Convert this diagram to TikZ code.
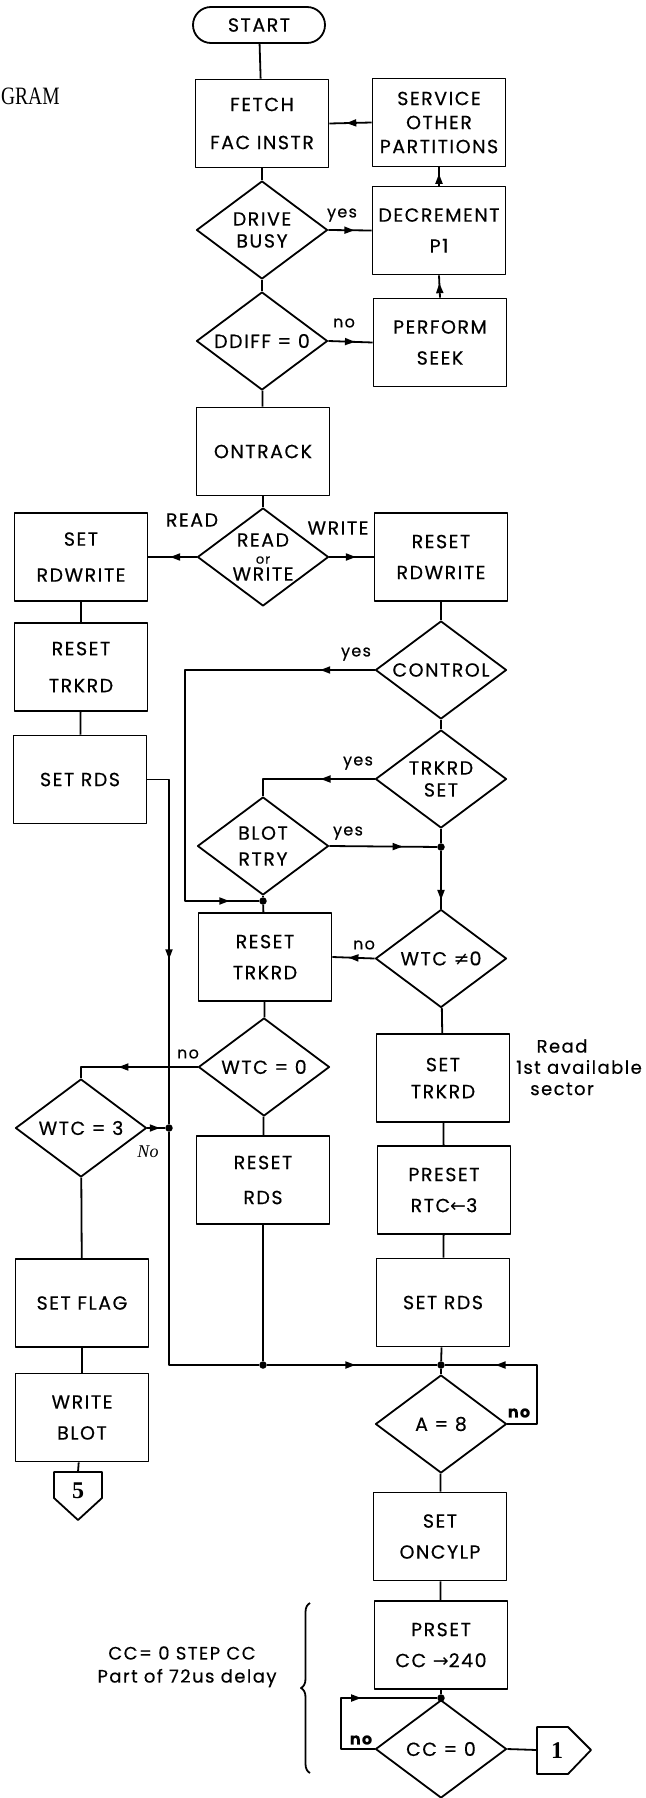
\documentclass[tikz,border=0pt]{standalone}
\usepackage{fontspec}
\setmainfont{Poppins}[LetterSpace=8, FakeBold=0.4]
\newfontfamily\symf{DejaVu Sans}
\newfontfamily\serf{Liberation Serif}
\usetikzlibrary{arrows.meta,decorations.markings,decorations.pathreplacing,shapes.geometric}
\tikzset{
  ln/.style={line width=1.8pt},
  fbox/.style={draw, line width=1.8pt, minimum width=133pt, minimum height=88pt, inner sep=0pt, align=center, font=\fontsize{19}{31}\selectfont},
  fdia/.style={draw, diamond, line width=1.8pt, minimum width=131pt, minimum height=98pt, inner sep=0pt, aspect=1.34, align=center, font=\fontsize{19}{22}\selectfont},
  jdot/.style={circle, fill, inner sep=0pt, minimum size=7.5pt},
  lab/.style={font=\fontsize{16}{16}\selectfont, inner sep=0pt},
  blab/.style={font=\bfseries\fontsize{16}{16}\selectfont, inner sep=0pt},
  capl/.style={font=\fontsize{19}{19}\selectfont, inner sep=0pt},
  notel/.style={font=\fontsize{18}{18}\selectfont, inner sep=0pt},
  connl/.style={line width=1.8pt, line join=round},
  ma/.style={postaction={decorate, decoration={markings, mark=at position #1 with {\arrow{Triangle[length=10pt,width=7pt]}}}}},
}
\begin{document}
\begin{tikzpicture}[x=1pt,y=-1pt,line join=round]
\useasboundingbox (0,0) rectangle (645,1798);

% caption fragment
\node[font=\serf\fontsize{25}{25}\selectfont, anchor=west, inner sep=0pt, xscale=0.78] (gram) at (1,96) {GRAM};

% main column
\node[fbox, minimum width=132pt, minimum height=36pt, rounded corners=18pt] (start) at (259,25) {START};
\node[fbox] (fetch) at (262,123.5) {FETCH\\[7pt]FAC INSTR};
\node[fdia] (busy) at (262,230) {DRIVE\\BUSY};
\node[fdia] (ddiff) at (262,341) {DDIFF = 0};
\node[fbox] (ontrack) at (263,451.5) {ONTRACK};
\node[fdia, font=\fontsize{19}{17}\selectfont] (rw) at (263,557) {READ\\{\fontsize{13}{13}\selectfont or}\\WRITE};
\node[fdia] (blot) at (263,846) {BLOT\\[4pt]RTRY};
\node[jdot] (jm1) at (263,901) {};
\node[fbox] (rtrk2) at (265,957) {RESET\\TRKRD};
\node[fdia] (wtc0) at (264,1067) {WTC = 0};
\node[fbox] (rrds) at (263,1180) {RESET\\[4pt]RDS};
\node[jdot] (jm2) at (263,1365) {};

% right column
\node[fbox, font=\fontsize{19}{24}\selectfont] (service) at (439,122.5) {SERVICE\\OTHER\\PARTITIONS};
\node[fbox] (decr) at (439,230.5) {DECREMENT\\P1};
\node[fbox] (seek) at (440,342.5) {PERFORM\\SEEK};
\node[fbox] (rrdw) at (441,557) {RESET\\RDWRITE};
\node[fdia] (control) at (441,670) {CONTROL};
\node[fdia] (trkset) at (441,779) {TRKRD\\SET};
\node[jdot] (jr1) at (441,847) {};
\node[fdia] (wtcn0) at (441,958.5) {WTC {\symf ≠}0};
\node[fbox, font=\fontsize{19}{27}\selectfont] (settrk) at (443,1078) {SET\\TRKRD};
\node[fbox] (preset) at (444,1190) {PRESET\\RTC{\symf ←}3};
\node[fbox] (setrds2) at (443,1302.5) {SET RDS};
\node[jdot] (jr2) at (441,1365) {};
\node[fdia] (a8) at (441,1424) {A = 8};
\node[fbox] (oncylp) at (440,1536.5) {SET\\ONCYLP};
\node[fbox] (prset) at (441,1645) {PRSET\\CC {\symf →}240};
\node[jdot] (jr3) at (441,1698) {};
\node[fdia] (cc0) at (441,1749) {CC = 0};

% left column
\node[fbox] (setrdw) at (81,557) {SET\\[5pt]RDWRITE};
\node[fbox] (rtrk1) at (81,667) {RESET\\[6pt]TRKRD};
\node[fbox] (setrds1) at (80,779.5) {SET RDS};
\node[fdia] (wtc3) at (81,1128) {WTC = 3};
\node[jdot] (jx) at (169,1128) {};
\node[fbox] (setflag) at (82,1303) {SET FLAG};
\node[fbox] (wblot) at (82,1417.5) {WRITE\\BLOT};

% off-page connectors
\draw[connl] (54,1472) -- (102,1472) -- (102,1498) -- (78,1520) -- (54,1498) -- cycle;
\coordinate (c5n) at (78,1472);
\node[font=\serf\bfseries\fontsize{24}{24}\selectfont, inner sep=0pt] (c5) at (78,1491) {5};
\draw[connl] (537,1727) -- (568,1727) -- (591,1750) -- (568,1774) -- (537,1774) -- cycle;
\coordinate (c1w) at (537,1750);
\node[font=\serf\bfseries\fontsize{24}{24}\selectfont, inner sep=0pt] (c1) at (557,1751) {1};

% corner coordinates
\coordinate (lp) at (185,901);
\coordinate (bl) at (169,1365);
\coordinate (rl) at (537,1365);
\coordinate (cl) at (341,1698);

% connectors
\draw[ln] (start) -- (fetch);
\draw[ln] (fetch) -- (busy);
\draw[ln, ma=0.6] (busy.east) -- (decr.west);
\draw[ln] (busy) -- (ddiff);
\draw[ln, ma=0.6] (ddiff.east) -- (seek.west);
\draw[ln, ma=0.65] (seek.north) -- (decr.south);
\draw[ln, ma=0.65] (decr.north) -- (service.south);
\draw[ln, ma=0.6] (service.west) -- (fetch.east);
\draw[ln] (ddiff) -- (ontrack);
\draw[ln] (ontrack) -- (rw);
\draw[ln, ma=0.55] (rw.west) -- (setrdw.east);
\draw[ln, ma=0.6] (rw.east) -- (rrdw.west);
\draw[ln] (setrdw) -- (rtrk1);
\draw[ln] (rtrk1) -- (setrds1);
\draw[ln] (rrdw) -- (control);
\draw[ln] (control) -- (trkset);
\draw[ln, ma=0.11, ma=0.94] (control.west) -| (lp) -- (jm1);
\draw[ln, ma=0.42] (trkset.west) -| (blot.north);
\draw[ln] (trkset) -- (jr1);
\draw[ln, ma=0.68] (blot.east) -- (jr1);
\draw[ln] (blot) -- (jm1);
\draw[ln, ma=0.85] (jr1) -- (wtcn0);
\draw[ln] (jm1) -- (rtrk2);
\draw[ln, ma=0.62] (wtcn0.west) -- (rtrk2.east);
\draw[ln] (rtrk2) -- (wtc0);
\draw[ln, ma=0.62] (wtc0.west) -| (wtc3.north);
\draw[ln] (wtc0) -- (rrds);
\draw[ln, ma=0.7] (wtc3.east) -- (jx);
\draw[ln, ma=0.55] (setrds1.east) -| (jx);
\draw[ln] (jx) -- (bl) -- (jm2);
\draw[ln, ma=0.52] (jm2) -- (jr2);
\draw[ln] (rrds) -- (jm2);
\draw[ln] (wtcn0) -- (settrk);
\draw[ln] (settrk) -- (preset);
\draw[ln] (preset) -- (setrds2);
\draw[ln] (setrds2) -- (jr2);
\draw[ln] (jr2) -- (a8);
\draw[ln, ma=0.72] (a8.east) -| (rl) -- (jr2);
\draw[ln] (a8) -- (oncylp);
\draw[ln] (oncylp) -- (prset);
\draw[ln] (prset) -- (jr3);
\draw[ln] (jr3) -- (cc0);
\draw[ln, ma=0.58] (cc0.west) -| (cl) -- (jr3);
\draw[ln] (cc0.east) -- (c1w);
\draw[ln] (wtc3) -- (setflag);
\draw[ln] (setflag) -- (wblot);
\draw[ln] (wblot) -- (c5n);

% brace
\draw[ln, decorate, decoration={brace, amplitude=9pt}] (310,1773) -- (310,1603);

% labels
\node[lab] (yes1) at (342,215) {yes};
\node[lab] (no1) at (344,323) {no};
\node[capl] (lread) at (192,520) {READ};
\node[capl] (lwrite) at (338,528) {WRITE};
\node[lab] (yes2) at (356,654) {yes};
\node[lab] (yes3) at (358,763) {yes};
\node[lab] (yes4) at (348,833) {yes};
\node[lab] (no2) at (364,945) {no};
\node[lab] (no3) at (188,1054) {no};
\node[font=\serf\itshape\fontsize{18}{18}\selectfont, inner sep=0pt] (no4) at (148,1152) {No};
\node[blab] (no5) at (519,1413) {no};
\node[blab] (no6) at (361,1740) {no};

% notes
\node[notel] (n1) at (562,1046) {Read};
\node[notel] (n2) at (579,1067) {1st available};
\node[notel] (n3) at (562,1089) {sector};
\node[notel] (cc1) at (182,1653) {CC= 0 STEP CC};
\node[notel] (cc2) at (187,1678) {Part of 72us delay};
\end{tikzpicture}
\end{document}
